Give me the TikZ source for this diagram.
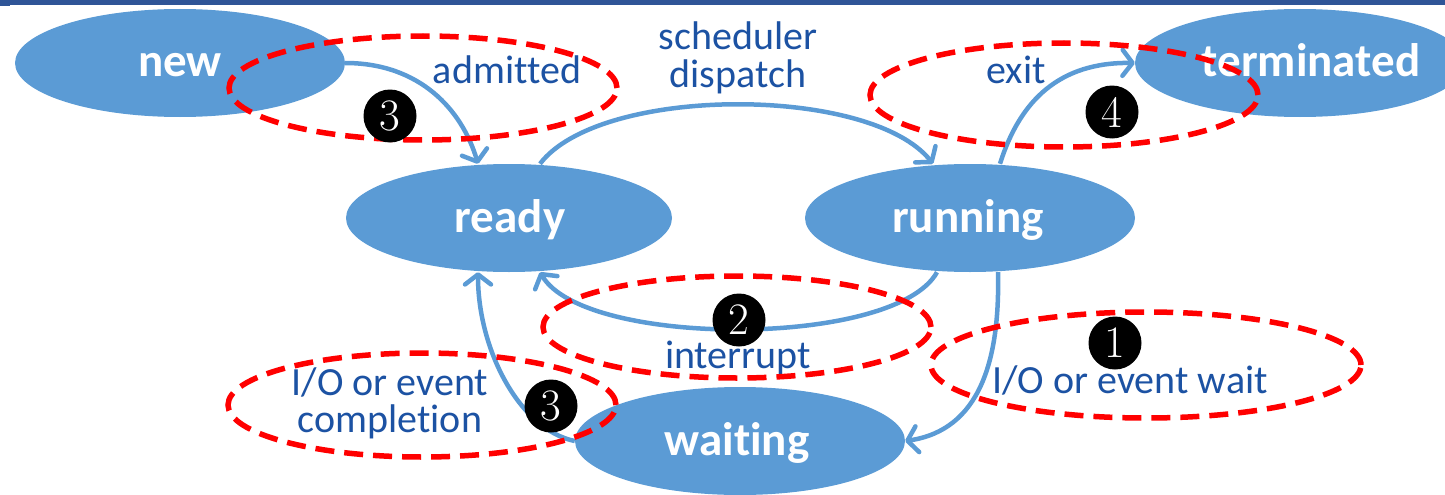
\documentclass[tikz,border=0pt]{standalone}
\usepackage{fontspec}
\newfontfamily\calfont[Ligatures=NoCommon]{Carlito}
\usetikzlibrary{shapes.geometric,arrows.meta}
\definecolor{stateblue}{HTML}{5B9BD5}
\definecolor{lblblue}{HTML}{1C52A3}
\definecolor{topbar}{HTML}{2F5597}
\definecolor{dashred}{HTML}{FF0000}
\begin{document}
\begin{tikzpicture}[x=1pt,y=-1pt,
  state/.style={ellipse,fill=stateblue,draw=none,inner sep=0pt,minimum width=330pt,minimum height=108pt},
  statetext/.style={anchor=base,text=white,font=\calfont\bfseries\fontsize{47}{50}\selectfont,inner sep=0pt},
  lbl/.style={anchor=base,text=lblblue,font=\calfont\fontsize{40}{37}\selectfont,inner sep=0pt,align=center},
  trans/.style={draw=stateblue,line width=4.5pt,-{Straight Barb[length=10pt,width=26pt,round]}},
  hilite/.style={ellipse,draw=dashred,line width=5.5pt,dash pattern=on 19pt off 10pt,inner sep=0pt},
  badge/.style={circle,fill=black,text=white,inner sep=0pt,minimum size=53pt,font=\fontsize{45}{45}\selectfont}
]
\useasboundingbox (0,0) rectangle (1445,495);
\fill[topbar] (0,0) rectangle (1445,5);
\fill[topbar] (0,0) rectangle (10,6.5);

% states
\node[state] (new) at (180,63) {};
\node[state] (terminated) at (1300,63) {};
\node[state,minimum width=326pt] (ready) at (509,218) {};
\node[state] (running) at (970,218) {};
\node[state] (waiting) at (740,441) {};

\node[statetext] (newt) at (180,76) {new};
\node[statetext] (terminatedt) at (1311,76) {terminated};
\node[statetext] (readyt) at (510,232) {ready};
\node[statetext] (runningt) at (968,232) {running};
\node[statetext] (waitingt) at (737,455) {waiting};

% transitions
\draw[trans] (new.east) .. controls (420,63) and (462,110) .. ([xshift=-31pt]ready.north);
\draw[trans] ([xshift=31pt]ready.north) .. controls (600,85) and (870,85) .. ([xshift=-37pt]running.north);
\draw[trans] ([xshift=30pt]running.north) .. controls (1020,100) and (1060,62) .. (terminated.west);
\draw[trans] ([xshift=-33pt]running.south) .. controls (895,348) and (585,348) .. ([xshift=31pt]ready.south);
\draw[trans] ([xshift=28pt]running.south) .. controls (1000,360) and (980,430) .. (waiting.east);
\draw[trans] (waiting.west) .. controls (520,430) and (478,350) .. ([xshift=-31pt]ready.south);

% labels
\node[lbl] (admitted) at (507,83) {admitted};
\node[lbl] (dispatch) at (738,87) {scheduler\\dispatch};
\node[lbl] (exit) at (1016,83) {exit};
\node[lbl] (interrupt) at (738,368) {interrupt};
\node[lbl] (iowait) at (1130,393) {I/O or event wait};
\node[lbl] (iodone) at (390,432) {I/O or event\\completion};

% highlights
\node[hilite,minimum width=388pt,minimum height=104pt] (h1) at (423,88) {};
\node[hilite,minimum width=388pt,minimum height=104pt] (h4) at (1064,95) {};
\node[hilite,minimum width=388pt,minimum height=102pt] (h2) at (737,327) {};
\node[hilite,minimum width=388pt,minimum height=104pt] (h3) at (422,405) {};
\node[hilite,minimum width=430pt,minimum height=106pt] (h5) at (1146,365) {};

% badges
\node[badge] (b3a) at (390,116) {3};
\node[badge] (b4) at (1112,112) {4};
\node[badge] (b2) at (739,320) {2};
\node[badge] (b1) at (1115,343) {1};
\node[badge] (b3b) at (551,406) {3};
\end{tikzpicture}
\end{document}
